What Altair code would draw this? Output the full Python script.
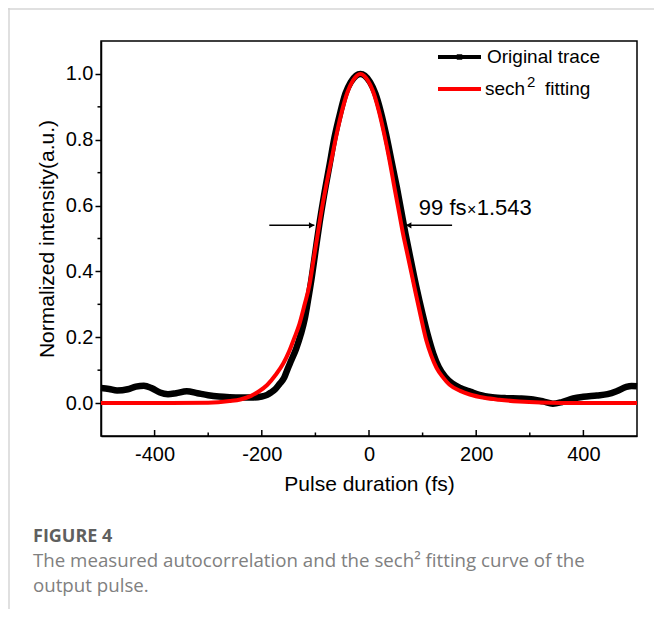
import altair as alt
import pandas as pd

# ---- data ----
orig_x = [-500, -485, -470, -450, -435, -420, -405, -390, -375, -360, -340, -320, -300, -280,
          -260, -240, -220, -200, -190, -183, -175, -167, -158, -152, -145, -136, -127, -120,
          -114, -107, -100, -92, -84, -74, -64, -54, -44, -34, -24, -16, -8, 2, 12, 22, 32,
          42, 52, 60, 68, 76, 88, 100, 110, 120, 130, 142, 155, 170, 190, 206, 230, 256, 280,
          306, 325, 343, 360, 381, 400, 425, 445, 462, 480, 490, 500]
orig_y = [0.046, 0.043, 0.038, 0.042, 0.050, 0.053, 0.045, 0.032, 0.027, 0.030, 0.036, 0.030,
          0.024, 0.020, 0.018, 0.017, 0.017, 0.020, 0.025, 0.032, 0.042, 0.058, 0.078, 0.103,
          0.130, 0.165, 0.210, 0.255, 0.310, 0.380, 0.460, 0.550, 0.630, 0.720, 0.810, 0.880,
          0.940, 0.975, 0.995, 1.000, 0.995, 0.975, 0.940, 0.885, 0.815, 0.735, 0.655, 0.585,
          0.515, 0.450, 0.355, 0.270, 0.205, 0.150, 0.110, 0.080, 0.060, 0.046, 0.034, 0.025,
          0.018, 0.015, 0.014, 0.011, 0.005, -0.002, 0.003, 0.014, 0.019, 0.023, 0.027, 0.036,
          0.049, 0.052, 0.051]

fit_x = [-500, -400, -300, -260, -240, -220, -205, -190, -174, -160, -149, -140, -130, -120,
         -111, -104, -96, -88, -80, -70, -60, -50, -40, -30, -16, -2, 8, 18, 28, 38, 48, 56,
         64, 72, 85, 97, 107, 116, 126, 138, 150, 170, 188, 215, 243, 280, 320, 400, 500]
fit_y = [0.0, 0.0, 0.001, 0.006, 0.011, 0.022, 0.036, 0.055, 0.086, 0.120, 0.157, 0.195,
         0.239, 0.300, 0.360, 0.430, 0.510, 0.590, 0.660, 0.740, 0.820, 0.890, 0.945, 0.980,
         1.000, 0.980, 0.945, 0.890, 0.820, 0.740, 0.650, 0.580, 0.510, 0.450, 0.350, 0.260,
         0.190, 0.145, 0.107, 0.078, 0.056, 0.037, 0.026, 0.016, 0.010, 0.005, 0.002, 0.0, 0.0]

x_major = [-400, -200, 0, 200, 400]
x_minor = [-300, -100, 100, 300]
y_major = [0.0, 0.2, 0.4, 0.6, 0.8, 1.0]
y_minor = [0.1, 0.3, 0.5, 0.7, 0.9]

arrow_tail = [-186, 155]
arrow_tip = [-102, 69]
arrow_head = [-107, 74]
arrow_shape = ["triangle-right", "triangle-left"]
arrow_level = [0.54, 0.54]

note_text = ["99 fs", "\u00d7", "1.543"]
note_x = [93, 183, 201]
note_y = [0.592, 0.588, 0.592]
note_size = [22, 16, 22]

legend_labels = ["Original trace", "sech", "2", "fitting"]
caption_title = "FIGURE 4"
caption_lines = ["The measured autocorrelation and the sech\u00b2 fitting curve of the",
                 "output pulse."]

W, H = 536, 395
FONT = "Liberation Sans"

xs = alt.Scale(domain=[-500, 500], nice=False, zero=False)
ys = alt.Scale(domain=[-0.1, 1.1], nice=False, zero=False)
x_axis = alt.Axis(values=x_major, title="Pulse duration (fs)", tickSize=0, labelPadding=8,
                  grid=False, titlePadding=9,
                  labelExpr="replace(datum.label, '\u2212', '-')")
y_axis = alt.Axis(values=y_major, title="Normalized intensity(a.u.)", format=".1f",
                  tickSize=6, tickWidth=1.5, tickColor="black", labelPadding=2, grid=False,
                  titlePadding=8)


def X(f="x"):
    return alt.X(f"{f}:Q", scale=xs, axis=x_axis)


def Y(f="y"):
    return alt.Y(f"{f}:Q", scale=ys, axis=y_axis)


orig = pd.DataFrame({"x": orig_x, "y": orig_y})
fit = pd.DataFrame({"x": fit_x, "y": fit_y})

black = alt.Chart(orig).mark_line(color="black", strokeWidth=6.5, interpolate="monotone").encode(
    x=X(), y=Y())
red = alt.Chart(fit).mark_line(color="#ff0000", strokeWidth=4, interpolate="monotone").encode(
    x=X(), y=Y())

xmaj = alt.Chart(pd.DataFrame({"x": x_major})).mark_rule(color="black", strokeWidth=1.5).encode(
    x=X(), y=alt.value(H), y2=alt.value(H - 6))
xmin = alt.Chart(pd.DataFrame({"x": x_minor})).mark_rule(color="black", strokeWidth=1.5).encode(
    x=X(), y=alt.value(H), y2=alt.value(H - 3.5))
ymin = alt.Chart(pd.DataFrame({"y": y_minor})).mark_rule(color="black", strokeWidth=1.5).encode(
    y=Y(), x=alt.value(-3.5), x2=alt.value(0))

arr = pd.DataFrame({"x": arrow_tail, "x2": arrow_tip, "y": arrow_level,
                    "h": arrow_head, "shape": arrow_shape})
arrow_lines = alt.Chart(arr).mark_rule(color="black", strokeWidth=1.5).encode(
    x=X(), x2="x2:Q", y=Y())
arrow_heads = alt.Chart(arr).mark_point(filled=True, color="black", size=40, opacity=1).encode(
    x=X("h"), y=Y(), shape=alt.Shape("shape:N", scale=None, legend=None))

note = alt.Chart(pd.DataFrame({"x": note_x, "y": note_y, "t": note_text, "s": note_size})).mark_text(
    font=FONT, align="left", baseline="middle", color="black").encode(
    x=X(), y=Y(), text="t:N", size=alt.Size("s:Q", scale=None, legend=None))

one = pd.DataFrame({"a": [0]})
leg_black = alt.Chart(one).mark_rule(color="black", strokeWidth=4).encode(
    x=alt.value(337), x2=alt.value(380), y=alt.value(16))
leg_sq = alt.Chart(one).mark_square(color="black", size=30, opacity=1).encode(
    x=alt.value(358.5), y=alt.value(16))
leg_red = alt.Chart(one).mark_rule(color="#ff0000", strokeWidth=4).encode(
    x=alt.value(337), x2=alt.value(380), y=alt.value(48))


def txt(t, x, y, size, **kw):
    return alt.Chart(one).mark_text(text=t, fontSize=size, **kw).encode(
        x=alt.value(x), y=alt.value(y))


leg_t1 = txt(legend_labels[0], 386, 16, 19, font=FONT, align="left", baseline="middle", color="black")
leg_t2 = txt(legend_labels[1], 384, 48, 19, font=FONT, align="left", baseline="middle", color="black")
leg_t3 = txt(legend_labels[2], 426, 41, 15, font=FONT, align="left", baseline="middle", color="black")
leg_t4 = txt(legend_labels[3], 444, 48, 19, font=FONT, align="left", baseline="middle", color="black")

cap1 = txt(caption_title, -68, 501, 18, font="Open Sans", fontWeight="bold", align="left",
           baseline="alphabetic", color="#5f5f5f")
cap2 = txt(caption_lines[0], -68, 526, 18.7, font="Open Sans", align="left",
           baseline="alphabetic", color="#808080")
cap3 = txt(caption_lines[1], -68, 551, 18.7, font="Open Sans", align="left",
           baseline="alphabetic", color="#808080")

frame_top = alt.Chart(one).mark_rule(color="#d6d6d6", strokeWidth=1.5).encode(
    x=alt.value(-93), x2=alt.value(W + 17), y=alt.value(-32))
frame_left = alt.Chart(one).mark_rule(color="#d6d6d6", strokeWidth=1.5).encode(
    x=alt.value(-92), y=alt.value(-33), y2=alt.value(H + 173))

chart = alt.layer(
    frame_top, frame_left,
    black, red, xmaj, xmin, ymin, arrow_lines, arrow_heads, note,
    leg_black, leg_sq, leg_red, leg_t1, leg_t2, leg_t3, leg_t4,
    cap1, cap2, cap3,
).properties(
    width=W, height=H,
    autosize=alt.AutoSizeParams(type="none"),
    padding={"left": 93, "top": 33, "right": 17, "bottom": 173},
    background="white",
).configure_view(
    stroke="black", strokeWidth=1.5
).configure_axis(
    domainColor="black", domainWidth=1.5,
    labelFont=FONT, labelFontSize=20, labelColor="black",
    titleFont=FONT, titleFontSize=21, titleFontWeight="normal", titleColor="black",
)

chart.save("out.html", embed_options={"renderer": "svg", "actions": False})
